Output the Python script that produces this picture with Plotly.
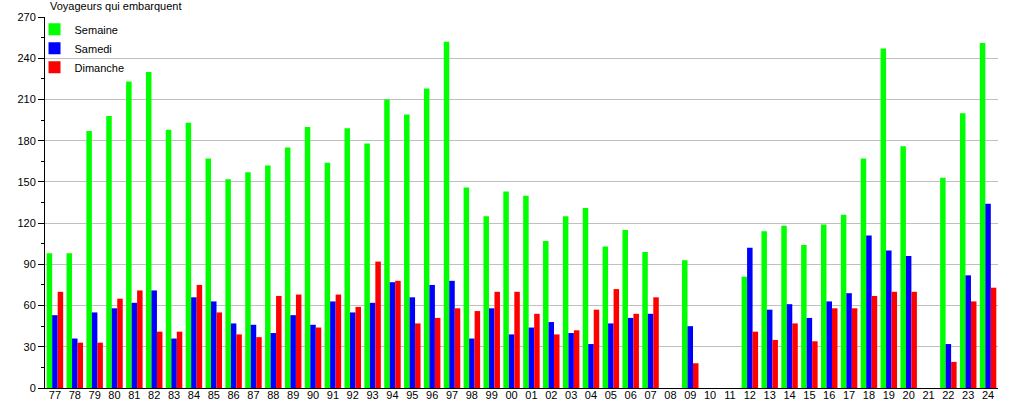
import plotly.graph_objects as go

years = ["77", "78", "79", "80", "81", "82", "83", "84", "85", "86", "87", "88", "89", "90",
         "91", "92", "93", "94", "95", "96", "97", "98", "99", "00", "01", "02", "03", "04",
         "05", "06", "07", "08", "09", "10", "11", "12", "13", "14", "15", "16", "17", "18",
         "19", "20", "21", "22", "23", "24"]

semaine = [98, 98, 187, 198, 223, 230, 188, 193, 167, 152, 157, 162, 175, 190,
           164, 189, 178, 210, 199, 218, 252, 146, 125, 143, 140, 107, 125, 131,
           103, 115, 99, None, 93, None, None, 81, 114, 118, 104, 119, 126, 167,
           247, 176, None, 153, 200, 251]

samedi = [53, 36, 55, 58, 62, 71, 36, 66, 63, 47, 46, 40, 53, 46,
          63, 55, 62, 77, 66, 75, 78, 36, 58, 39, 44, 48, 40, 32,
          47, 51, 54, None, 45, None, None, 102, 57, 61, 51, 63, 69, 111,
          100, 96, None, 32, 82, 134]

dimanche = [70, 33, 33, 65, 71, 41, 41, 75, 55, 39, 37, 67, 68, 44,
            68, 59, 92, 78, 47, 51, 58, 56, 70, 70, 54, 39, 42, 57,
            72, 54, 66, None, 18, None, None, 41, 35, 47, 34, 58, 58, 67,
            70, 70, None, 19, 63, 73]

y_ticks = [0, 30, 60, 90, 120, 150, 180, 210, 240, 270]

FONT = "Liberation Sans, Arial, sans-serif"

fig = go.Figure()
for name, vals, col in [("Semaine", semaine, "#00ff00"),
                        ("Samedi", samedi, "#0000ff"),
                        ("Dimanche", dimanche, "#ff0000")]:
    fig.add_trace(go.Bar(x=years, y=vals, name=name, marker=dict(color=col, line=dict(width=0))))

fig.update_layout(
    width=1015, height=400,
    margin=dict(l=45, r=17, t=17, b=12),
    paper_bgcolor="white", plot_bgcolor="white",
    barmode="group", bargap=0.17, bargroupgap=0,
    font=dict(family=FONT, size=11, color="black"),
    showlegend=True,
    legend=dict(x=-0.011, y=1.006, xanchor="left", yanchor="top",
                bgcolor="rgba(0,0,0,0)", font=dict(size=11), tracegroupgap=0,
                itemwidth=30),
    title=dict(text="Voyageurs qui embarquent", x=50 / 1015, xanchor="left",
               y=1 - 6 / 400, yanchor="middle", xref="container", yref="container",
               font=dict(size=11, color="black"), automargin=False),
)
fig.update_xaxes(type="category", showline=True, linecolor="black", linewidth=1,
                 ticks="", showgrid=False, tickfont=dict(size=11), tickangle=0,
                 automargin=False, ticklabelstandoff=-3)
fig.update_yaxes(range=[0, 270], tickvals=y_ticks, showline=True, linecolor="black", linewidth=1,
                 ticks="outside", ticklen=6, tickcolor="black", showgrid=True,
                 gridcolor="#c0c0c0", gridwidth=1, zeroline=False, automargin=False,
                 minor=dict(tickvals=[15, 45, 75, 105, 135, 165, 195, 225, 255],
                            ticks="outside", ticklen=3, tickcolor="black", showgrid=False),
                 tickfont=dict(size=11))

fig.write_html("out.html", config={"displayModeBar": False},
               post_script="document.body.style.margin='0';document.body.style.overflow='hidden';")
